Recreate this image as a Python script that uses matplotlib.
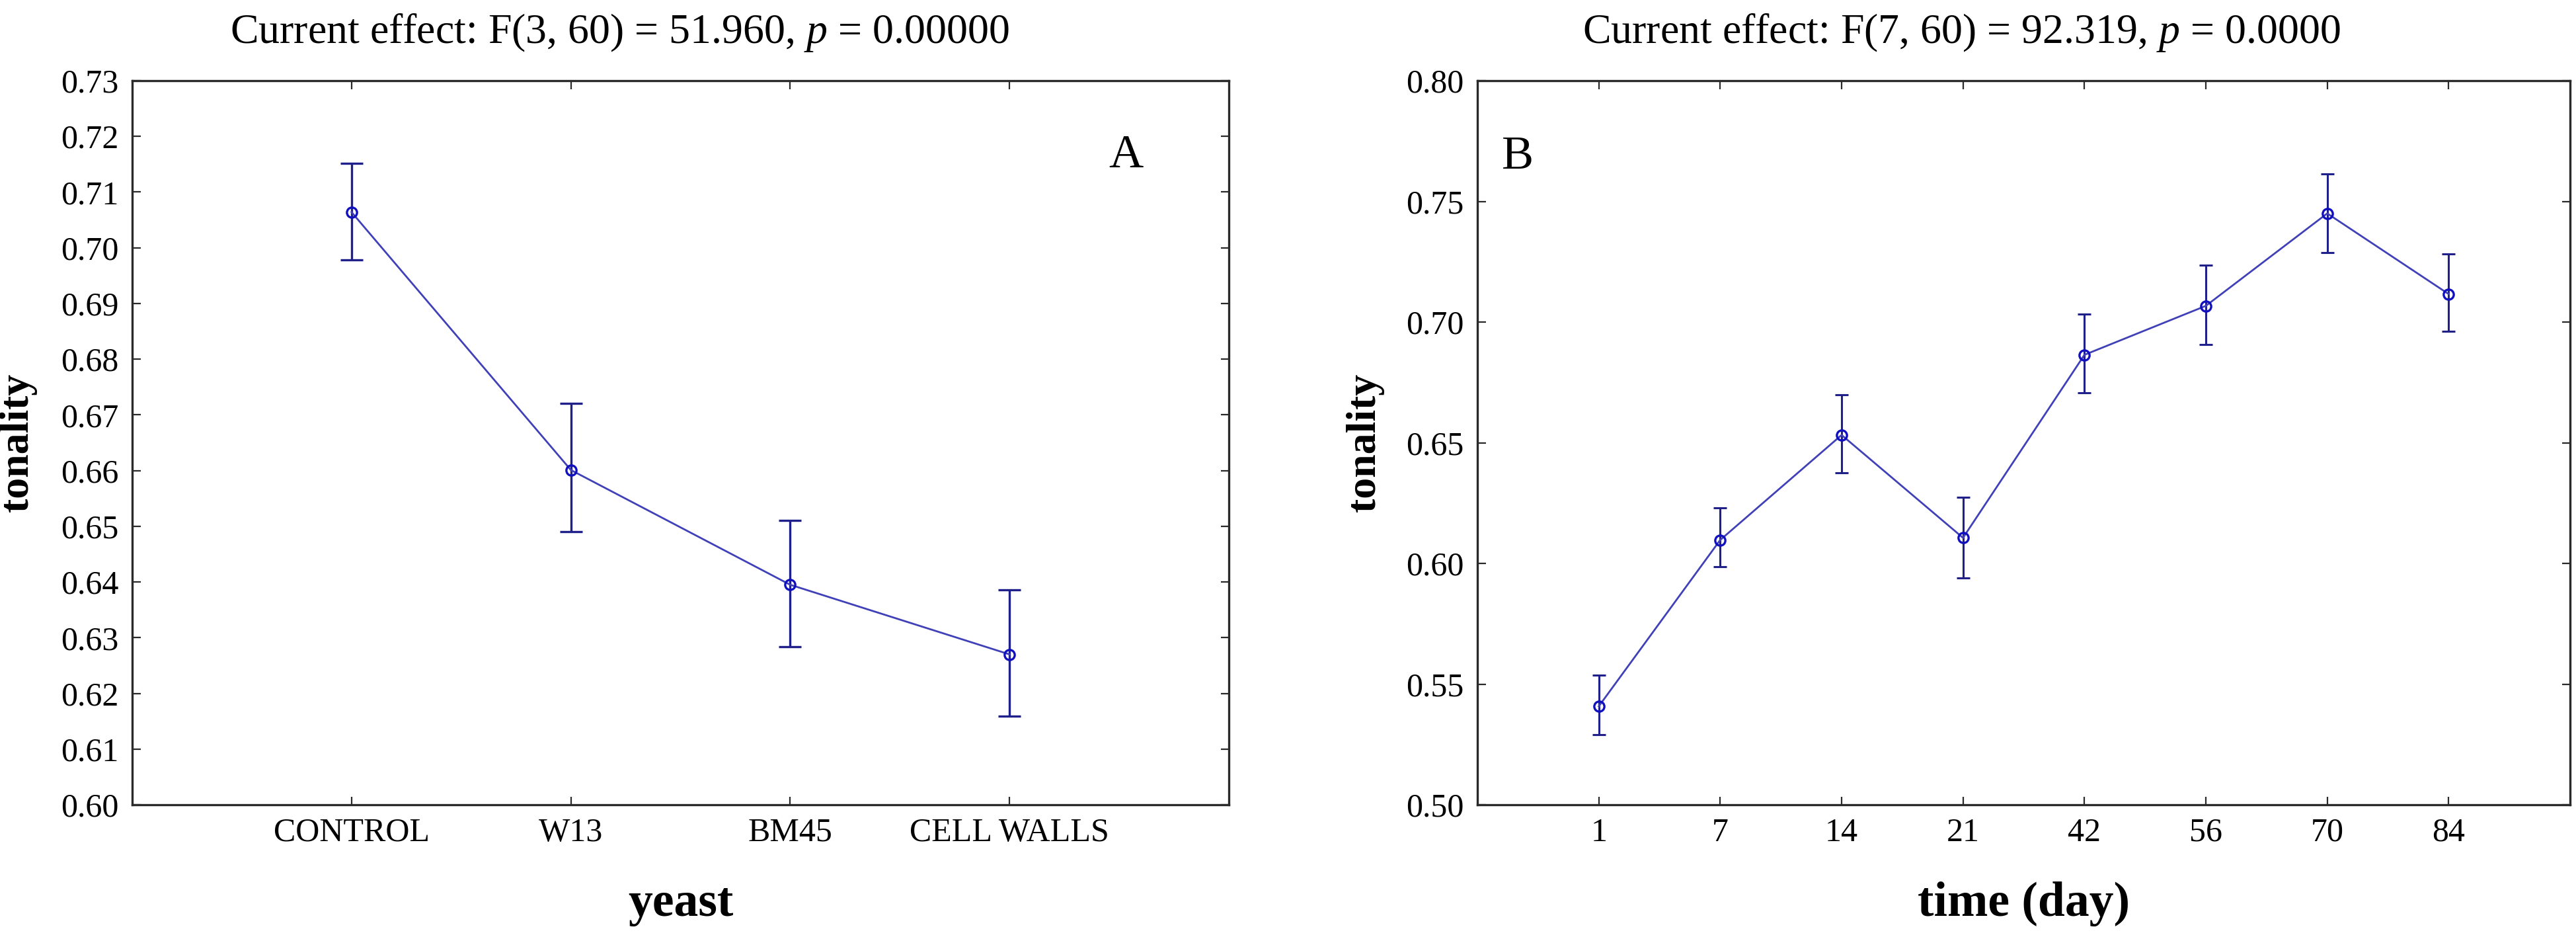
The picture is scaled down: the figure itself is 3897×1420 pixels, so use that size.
import matplotlib
matplotlib.use("Agg")
import matplotlib.pyplot as plt
import numpy as np

plt.rcParams['font.family'] = ['Liberation Serif', 'DejaVu Serif']
plt.rcParams['mathtext.fontset'] = 'custom'
plt.rcParams['mathtext.rm'] = 'Liberation Serif'
plt.rcParams['mathtext.it'] = 'Liberation Serif:italic'

# ---- data ----
yeast = ['CONTROL', 'W13', 'BM45', 'CELL WALLS']
yeast_mean = [0.7064, 0.6601, 0.6395, 0.6270]
yeast_low = [0.6978, 0.6490, 0.6284, 0.6159]
yeast_high = [0.7152, 0.6721, 0.6511, 0.6386]

days = ['1', '7', '14', '21', '42', '56', '70', '84']
time_mean = [0.5408, 0.6097, 0.6532, 0.6106, 0.6864, 0.7067, 0.7450, 0.7116]
time_low = [0.5290, 0.5985, 0.6374, 0.5941, 0.6706, 0.6908, 0.7288, 0.6963]
time_high = [0.5537, 0.6230, 0.6698, 0.6275, 0.7032, 0.7235, 0.7614, 0.7282]

title_a = 'Current effect: F(3, 60) = 51.960, $p$ = 0.00000'
title_b = 'Current effect: F(7, 60) = 92.319, $p$ = 0.0000'

W, H = 3898, 1420
fig = plt.figure(figsize=(W / 100, H / 100), dpi=100)
fig.patch.set_facecolor('white')

line_c = '#4040B8'
err_c = '#20208A'
mark_c = '#1010C0'
spine_c = '#2a2a2a'


def px(x0, y0, x1, y1):
    return [x0 / W, 1 - y1 / H, (x1 - x0) / W, (y1 - y0) / H]


def style(ax, yticks, ylim, ncat, labels, xlabel):
    ax.set_xlim(0, ncat + 1)
    ax.set_ylim(*ylim)
    ax.set_xticks(np.arange(1, ncat + 1))
    ax.set_xticklabels(labels)
    ax.set_yticks(yticks)
    ax.set_yticklabels(['%.2f' % v for v in yticks])
    ax.tick_params(axis='both', direction='in', length=9, width=1.6,
                   color=spine_c, top=True, right=True, labelsize=36)
    ax.tick_params(axis='y', pad=15)
    ax.tick_params(axis='x', pad=14)
    for s in ax.spines.values():
        s.set_linewidth(2.4)
        s.set_color(spine_c)
    ax.set_ylabel('tonality', fontsize=46, fontweight='bold')
    ax.set_xlabel(xlabel, fontsize=53, fontweight='bold')
    ax.xaxis.label.set_va('baseline')
    ax.xaxis.set_label_coords(0.5, -168 / 1095)


# ---- panel A ----
axA = fig.add_axes(px(200, 122, 1859, 1217))
xa = np.arange(1, len(yeast) + 1)
ma = np.array(yeast_mean)
errA = [ma - np.array(yeast_low), np.array(yeast_high) - ma]
axA.errorbar(xa, ma, yerr=errA, fmt='none', ecolor=err_c, elinewidth=2.4,
             capsize=12.5, capthick=2.4, zorder=2)
axA.plot(xa, ma, '-', color=line_c, lw=2.0, zorder=3)
axA.plot(xa, ma, 'o', mfc='none', mec=mark_c, ms=11, mew=2.4, zorder=4)
style(axA, np.round(np.arange(0.60, 0.7301, 0.01), 2), (0.60, 0.73),
      len(yeast), yeast, 'yeast')
axA.yaxis.set_label_coords(-144 / 1659, 0.5)
axA.text(1730 / W, 1 - 253 / H, 'A', transform=fig.transFigure,
         ha='right', va='baseline', fontsize=52)

# ---- panel B ----
axB = fig.add_axes(px(2235, 122, 3888, 1217))
xb = np.arange(1, len(days) + 1)
mb = np.array(time_mean)
errB = [mb - np.array(time_low), np.array(time_high) - mb]
axB.errorbar(xb, mb, yerr=errB, fmt='none', ecolor=err_c, elinewidth=2.2,
             capsize=7.5, capthick=2.2, zorder=2)
axB.plot(xb, mb, '-', color=line_c, lw=2.0, zorder=3)
axB.plot(xb, mb, 'o', mfc='none', mec=mark_c, ms=11, mew=2.4, zorder=4)
style(axB, np.round(np.arange(0.50, 0.8001, 0.05), 2), (0.50, 0.80),
      len(days), days, 'time (day)')
axB.yaxis.set_label_coords(-141 / 1653, 0.5)
axB.text(2272 / W, 1 - 255 / H, 'B', transform=fig.transFigure,
         ha='left', va='baseline', fontsize=52)

# ---- titles ----
fig.text(937 / W, 1 - 65 / H, title_a, ha='center', va='baseline', fontsize=46)
fig.text(2967 / W, 1 - 65 / H, title_b, ha='center', va='baseline', fontsize=46)

fig.savefig('out.png', dpi=100, facecolor='white')
